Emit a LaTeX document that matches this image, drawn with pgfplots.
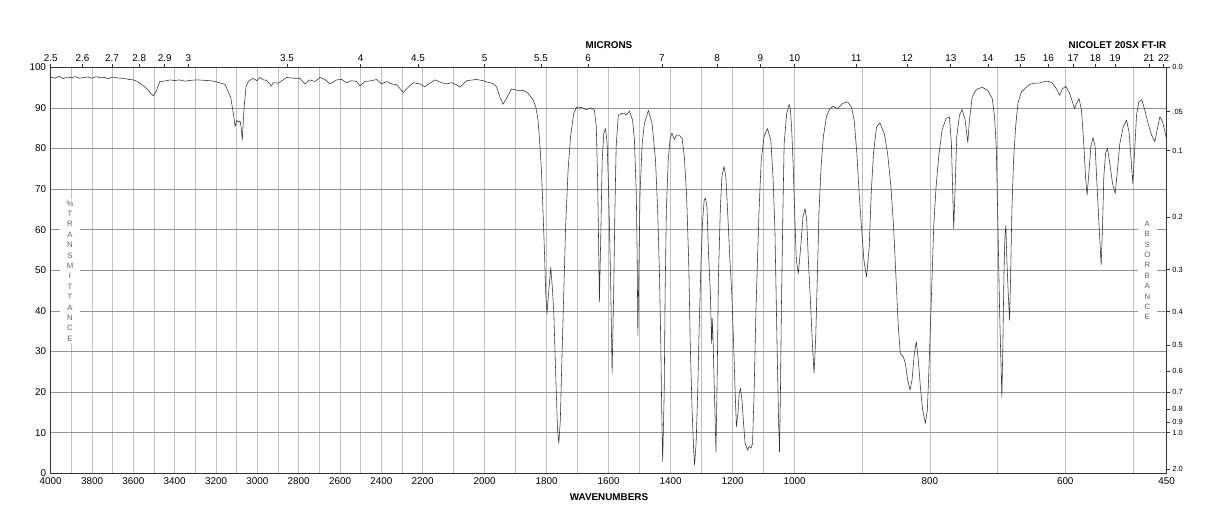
\documentclass[border=0pt]{standalone}
\usepackage{fontspec}
\setmainfont{Liberation Sans}
\usepackage{pgfplots}
\usepackage{pgfplotstable}
\pgfplotsset{compat=1.18}

\pgfplotsset{
  irtrafo/.style={
    x coord trafo/.code={\pgfmathparse{(4000-max(##1,2200))/1800+(2200-min(max(##1,1000),2200))/1200+(1000-min(##1,1000))/550}},
  },
  irframe/.style={
    at={(0,0)}, anchor=south west,
    scale only axis, width=837pt, height=304.5pt,
    irtrafo, xmin=4000, xmax=450, ymin=0, ymax=100,
  }
}

\pgfplotstableread{
w t
4000 97.6
3980 97.3
3960 97.8
3940 97.2
3920 97.6
3900 97.4
3880 97.7
3860 97.3
3840 97.5
3820 97.6
3800 97.3
3780 97.7
3760 97.4
3740 97.5
3720 97.2
3700 97.6
3680 97.4
3660 97.3
3640 97.2
3620 97.0
3600 96.9
3584 96.6
3560 95.8
3530 94.5
3515 93.5
3504 93.0
3490 94.0
3480 95.5
3471 96.5
3450 96.6
3420 96.9
3400 96.7
3380 96.9
3350 96.6
3320 96.8
3290 96.9
3260 96.8
3230 96.7
3213 96.6
3190 96.3
3170 96.0
3157 95.8
3141 94.0
3129 92.6
3119 89.5
3110 86.5
3108 85.4
3100 86.9
3092 86.5
3084 86.8
3079 85.5
3073 82.1
3065 89.5
3055 95.2
3044 96.5
3020 97.3
3003 96.7
2987 97.5
2971 96.9
2955 96.8
2939 95.8
2932 95.4
2923 96.2
2899 96.1
2875 96.9
2858 97.5
2826 97.3
2794 97.3
2770 95.9
2746 96.9
2721 96.5
2697 97.5
2673 97.0
2649 95.9
2616 96.9
2592 97.0
2568 96.2
2544 96.7
2520 96.5
2504 95.4
2480 96.5
2447 96.7
2423 97.0
2399 95.9
2374 96.5
2350 95.9
2326 95.7
2294 93.8
2270 95.1
2245 96.2
2213 95.9
2193 95.2
2177 96.1
2160 96.9
2139 96.2
2123 95.9
2107 96.2
2091 95.7
2080 95.1
2058 96.7
2026 97.0
2005 96.7
1994 96.4
1983 96.2
1973 96.0
1962 95.2
1951 92.7
1941 90.9
1930 92.3
1914 94.6
1903 94.5
1887 94.2
1876 94.4
1860 93.6
1844 92.0
1835 90.2
1828 87.0
1823 82.0
1817 74.7
1812 64.8
1807 54.1
1803 44.3
1799 39.4
1794 44.3
1787 50.7
1782 45.9
1777 39.4
1773 29.5
1769 19.7
1765 10.7
1761 7.4
1756 13.1
1751 27.9
1745 44.3
1739 60.7
1731 74.7
1723 82.9
1713 88.6
1703 90.2
1688 90.1
1672 89.6
1656 90.0
1646 89.4
1640 85.3
1636 73.0
1633 59.1
1630 42.2
1625 60.7
1621 77.1
1616 83.7
1610 84.9
1605 81.2
1600 68.9
1594 48.4
1589 24.6
1584 44.3
1580 64.8
1576 80.4
1569 88.2
1560 88.6
1549 88.7
1544 88.2
1533 89.2
1523 87.0
1517 82.1
1511 68.9
1508 52.5
1506 34.0
1503 48.4
1499 68.9
1492 81.2
1485 86.1
1472 89.4
1460 86.1
1449 77.1
1442 64.8
1436 48.4
1432 32.0
1429 15.6
1426 2.9
1421 19.7
1418 44.3
1414 64.8
1408 77.1
1402 82.4
1396 83.8
1388 82.2
1381 83.3
1372 83.3
1363 82.4
1356 77.9
1349 68.9
1342 52.5
1337 32.0
1331 15.6
1326 5.7
1323 2.1
1318 7.4
1313 19.7
1308 36.1
1302 52.5
1297 62.3
1292 67.3
1288 67.8
1283 65.6
1278 54.1
1272 44.3
1268 32.0
1266 38.1
1263 32.0
1259 19.7
1254 5.3
1250 23.8
1246 48.4
1240 64.8
1235 73.0
1228 75.6
1222 73.0
1215 62.3
1209 52.5
1203 44.3
1197 32.0
1192 19.7
1188 11.5
1183 14.8
1179 19.7
1175 20.9
1170 18.0
1165 12.3
1160 7.4
1152 5.7
1147 6.6
1141 6.2
1136 7.4
1131 19.7
1125 40.2
1120 52.5
1115 64.8
1108 77.1
1099 82.9
1088 84.9
1077 82.1
1070 73.0
1064 60.7
1060 44.3
1056 27.9
1052 13.1
1049 5.3
1046 19.7
1043 40.2
1038 64.8
1034 81.2
1026 88.6
1018 90.9
1014 89.8
1010 85.3
1005 76.0
1000 64.0
997.6 52.5
994.6 49.2
991.1 55.8
987.7 63.2
984.7 65.2
982.2 62.3
979.8 52.5
976.8 42.7
973.9 32.0
971.4 24.6
968.9 33.6
966.5 48.4
964 64.8
961 75.5
957.6 82.9
953.1 87.8
948.1 89.8
943.2 90.4
936.8 89.8
929.4 91.1
922 91.5
916.1 90.2
912.1 87.0
908.1 78.8
904.7 68.9
901.3 60.7
897.7 52.5
893.8 48.4
889.8 55.8
886.9 68.9
883.5 78.8
879 85.3
874 86.3
867.6 83.7
862.7 78.8
857.7 70.5
853.8 60.7
850.3 48.4
846.8 36.1
843.9 29.5
839.4 28.7
836.5 27.1
833 23.0
829.5 20.5
826.5 23.0
823.1 29.5
820.2 32.4
817.2 27.9
814.2 21.3
810.8 15.6
806.8 12.3
803.9 15.6
801.9 23.8
799.4 36.1
796.9 48.4
794.5 60.7
791 70.5
787.1 78.0
782.1 84.6
776.1 87.4
771.2 87.7
768.3 81.2
766.3 68.9
764.9 60.3
762.8 70.5
760.4 82.9
756.4 88.2
752.4 89.6
748 87.0
744.1 81.5
741.6 87.0
737.6 92.7
731.6 94.5
722.8 95.1
714.5 94.3
707.9 92.3
704.5 87.8
702 80.4
700.5 68.9
699 56.6
697.1 40.2
695.2 27.9
693.7 18.7
692.2 32.0
690.7 48.4
689.2 58.2
687.8 61.1
686.3 52.5
684.3 44.3
682.3 37.7
680.8 48.4
678.9 64.8
676.4 77.1
673.4 85.3
670 91.1
665 93.9
660.1 94.7
652.7 95.8
645.3 96.1
637.9 96.1
632.9 96.4
625.5 96.6
619 96.1
613.1 94.7
608.2 93.1
604.2 94.7
599.3 95.3
594.4 93.9
589.3 91.5
586.4 89.8
583.4 91.1
579.5 92.3
576 89.4
572.6 81.2
570 73.0
567.7 68.5
564.7 74.7
562.2 80.4
558.8 82.7
555.8 80.4
552.9 70.5
549.9 60.7
546.9 51.3
544.9 60.7
543 73.0
540.4 78.8
537.5 80.0
534.1 76.3
530.1 71.4
526.2 68.9
523.3 73.8
519.3 81.2
514.4 85.3
509.4 87.0
505.5 83.8
502.6 77.1
500.1 71.4
497.6 78.8
494.6 88.2
491.2 91.5
486.8 92.0
482.3 89.4
477.4 86.1
472.4 83.3
467.5 81.7
464.1 84.6
460.1 87.8
456.1 86.6
452.7 84.2
450 82.1
}\spectrum

\begin{document}
\begin{tikzpicture}[x=0.75pt,y=0.75pt]
\useasboundingbox (-50.7,-54.7) rectangle (1167.3,473.3);

\begin{axis}[
  irframe,
  xtick={4000,3900,3800,3700,3600,3500,3400,3300,3200,3100,3000,2900,2800,2700,2600,2500,2400,2300,2200,2100,2000,1900,1800,1700,1600,1500,1400,1300,1200,1100,1000,900,800,700,600,500,450},
  xticklabels={4000,,3800,,3600,,3400,,3200,,3000,,2800,,2600,,2400,,2200,,2000,,1800,,1600,,1400,,1200,,1000,,800,,600,,450},
  ytick={0,10,20,30,40,50,60,70,80,90,100},
  yticklabels={0,10,20,30,40,50,60,70,80,90,100},
  xtick pos=left, ytick pos=left,
  major tick length=0pt,
  xmajorgrids, ymajorgrids,
  x grid style={black!25, line width=0.45pt},
  y grid style={black!42, line width=0.45pt},
  axis line style={black!80, line width=0.6pt},
  tick label style={font=\fontsize{7.4}{8}\selectfont},
  /pgf/number format/assume math mode=true,
]
\addplot[black!80, line width=0.42pt, line join=round] table[x=w, y=t] {\spectrum};
\end{axis}

\begin{axis}[
  irframe,
  axis line style={draw=none},
  xtick={4000,3846.15,3703.70,3571.43,3448.28,3333.33,2857.14,2500,2222.22,2000,1818.18,1666.67,1428.57,1250,1111.11,1000,909.09,833.33,769.23,714.29,666.67,625,588.24,555.56,526.32,476.19,454.55},
  xticklabels={2.5,2.6,2.7,2.8,2.9,3,3.5,4,4.5,5,5.5,6,7,8,9,10,11,12,13,14,15,16,17,18,19,21,22},
  xtick pos=right, xticklabel pos=right,
  ytick={100,89.125,79.433,63.096,50.119,39.811,31.623,25.119,19.953,15.849,12.589,10,1},
  yticklabels={0.0,.05,0.1,0.2,0.3,0.4,0.5,0.6,0.7,0.8,0.9,1.0,2.0},
  ytick pos=right, yticklabel pos=right,
  tick align=outside, major tick length=2.6pt,
  tick style={black!80, line width=0.5pt},
  x tick label style={font=\fontsize{7.4}{8}\selectfont, inner sep=1.5pt},
  y tick label style={font=\fontsize{5.6}{6}\selectfont, inner sep=1.5pt},
]
\end{axis}

\node[fill=white, inner xsep=5pt, inner ysep=1pt, text=black!62, align=center,
      font=\fontsize{5.8}{7.8}\selectfont] at (19.3,202.3)
  {\%\\T\\R\\A\\N\\S\\M\\I\\T\\T\\A\\N\\C\\E};
\node[fill=white, inner xsep=5pt, inner ysep=1pt, text=black!62, align=center,
      font=\fontsize{5.8}{7.8}\selectfont] at (1096.6,202.8)
  {A\\B\\S\\O\\R\\B\\A\\N\\C\\E};

\node[font=\bfseries\fontsize{7.4}{8}\selectfont] at (558.3,428.3) {MICRONS};
\node[font=\bfseries\fontsize{7.4}{8}\selectfont, anchor=east] at (1120.3,428.3) {NICOLET 20SX FT-IR};
\node[font=\bfseries\fontsize{7.4}{8}\selectfont] at (558.3,-24) {WAVENUMBERS};
\end{tikzpicture}
\end{document}
